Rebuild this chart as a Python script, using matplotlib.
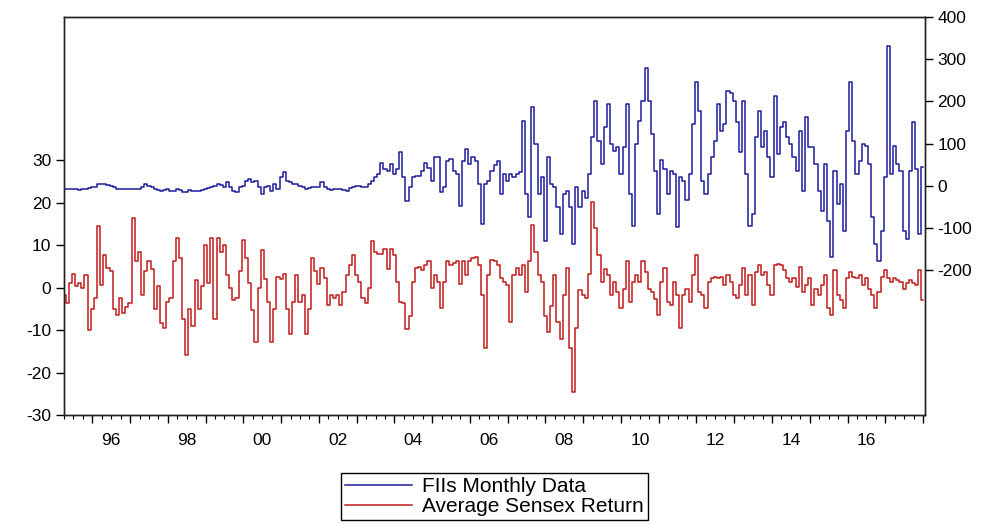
import numpy as np
import matplotlib
matplotlib.use("Agg")
import matplotlib.pyplot as plt
from matplotlib.ticker import MultipleLocator
from matplotlib.transforms import blended_transform_factory

plt.rcParams['font.family'] = ['Liberation Sans', 'DejaVu Sans']
plt.rcParams['axes.unicode_minus'] = False

# monthly series, first observation April 1995
start_year = 1995
start_month = 4

fii_monthly = [
    -8, -8, -7, -8, -8, -9, -8, -7, -5, -4,
    -2, 4, 3, 4, 2, 0, -4, -8, -8, -8,
    -8, -8, -8, -8, -8, -2, 4, 0, -3, -8,
    -10, -12, -9, -8, -12, -13, -8, -10, -15, -16,
    -11, -12, -12, -13, -9, -8, -5, -4, -1, 4,
    2, -4, 8, -4, -12, -14, -4, 0, 10, 16,
    8, 12, -4, -20, -4, 0, -12, 4, -8, 20,
    32, 10, 8, 4, 4, 0, -4, -8, -6, -4,
    -4, -2, 8, -4, -8, -9, -8, -8, -8, -9,
    -12, -6, -4, 0, 0, -2, -4, 4, 12, 20,
    28, 55, 40, 36, 51, 28, 40, 79, 20, -36,
    -4, 20, 22, 24, 36, 55, 43, 12, 67, 67,
    -16, -4, 59, 63, 36, 28, -47, 59, 87, 51,
    67, 59, 4, -91, 4, 12, 36, 50, 59, -20,
    28, 12, 28, 20, 28, 32, 154, -20, -75, 186,
    99, -20, 20, -130, 67, 4, -4, -51, -114, -20,
    -12, -51, -138, -4, -51, -12, -28, 28, 115, 201,
    107, 51, 138, 194, 99, 83, 91, 28, 91, 194,
    -20, -95, 99, 154, 200, 280, 200, 122, 36, -67,
    60, 40, -20, 36, 28, -99, 20, 12, -35, 28,
    146, 245, 178, 12, -20, 28, 67, 107, 194, 130,
    146, 225, 220, 201, 150, 80, 201, 28, -95, -67,
    115, 178, 91, 130, 67, 20, 213, 75, 138, 150,
    115, 99, 67, 36, 130, -12, 162, 91, 91, 51,
    -12, -59, 51, -83, -170, 36, -43, 4, -107, 130,
    245, 107, 28, 59, 99, 95, 51, -75, -138, -178,
    -107, 20, 332, 28, 95, 51, 36, -107, -126, 36,
    150, 40, -115, 45,
]

sensex_return = [
    -1.7, -3.5, 1, 3.3, 0.5, 1, 0, 3, -10, -5,
    -2.5, 14.5, 0.7, 7.8, 4.7, 4, -5, -6.5, -2.5, -6,
    -4.5, -3.5, 16.5, 6.2, 8.5, -1.7, 4, 6.2, 4.3, -5,
    0.5, -8.2, -9.4, -3.4, -2.5, 6.2, 11.6, 7, -7.3, -15.9,
    -5, -9, 1.7, -5, 0.5, 10, 1, 11.6, -7.3, 11.6,
    8.5, 10, 3, 0, -3, -2.5, 4, 11.3, 7, 1,
    -5.3, -12.7, 0, 9, 2, -3.3, -12.7, -5, 2.5, 2,
    3.3, -5, -11, -3.3, 3, -3.3, -1.7, -11, -5, 7,
    4, 0.8, 4.7, 2.2, -4, -1.7, -2.5, -1.7, -4, -0.9,
    3, 5.4, 7.7, 3, 1.4, -2.5, -3.7, 0, 11, 8.5,
    8, 8, 9.2, 4.5, 9.2, 7.7, 1.4, -3.3, -3.7, -9.7,
    -6.6, 1.4, 4.6, 4.9, 4.1, 5.3, 6.2, 0, 3, 1.4,
    -4.9, 1.4, 6.2, 5.4, 5.8, 6.2, 0.8, 6.2, 3, 6.2,
    7, 7.3, 5.4, -1.7, -14.3, 3, 6.5, 6.2, 5.4, 2.2,
    1.4, 0.6, -8, 3, 4.6, 3, 5.4, -1, 6.2, 14.8,
    8.5, 3, 1.4, -6.6, -10.5, -4.2, 3, -8, -12, -1.7,
    4.6, -14.3, -24.5, -9.6, -0.5, -1.7, -2.5, 3.3, 20.3, 14,
    7.7, 1.4, 4.5, 3, -1.7, 1.4, -1, -4.9, -0.2, 6.2,
    -3.3, 1.4, 3, 1.4, 6.2, 3.8, -0.2, -1, -2.6, -6.5,
    1.4, 4.6, -3.3, -4.1, 1.4, -1.7, -9.6, -1.7, -0.2, -3.3,
    3, 7.7, -1, -1.7, -4.9, 1.4, 2.2, 2.6, 2.2, 2.6,
    0.6, 3, 1.4, -1.7, -2.5, 0.6, 4.6, -1.7, 3, -4.1,
    3.8, 5.3, 3, 3.8, 0.6, -1.7, 5.3, 5.7, 5.3, 4.1,
    2.2, 1.4, 2.2, 0.2, 4.9, -1, 0.6, 2.2, -4.1, -0.2,
    -1.7, 0.6, 3, -4.9, -6.4, 4.1, -1.7, -2.9, -4.9, 2.2,
    3.8, 2.6, 2.2, 3, 0.6, 2.2, -0.2, -1.7, -4.9, -1,
    2.6, 4.1, 2.2, 1.4, 2.2, 1.8, 1.4, -0.2, 1, 1.8,
    1, 0.6, 4.1, -2.9,
]

year_labels = ['96', '98', '00', '02', '04', '06', '08', '10', '12', '14', '16']
label_years = [1996, 1998, 2000, 2002, 2004, 2006, 2008, 2010, 2012, 2014, 2016]

n = len(sensex_return)
t = start_year + (start_month - 1) / 12 + np.arange(n) / 12

fig = plt.figure(figsize=(9.95, 5.24), dpi=100)
ax = fig.add_axes([0.0643, 0.208, 0.8653, 0.7596])
ax2 = ax.twinx()

red_line, = ax.plot(t, sensex_return, color='#c21a1a', lw=1.1, drawstyle='steps-mid')
blue_line, = ax2.plot(t, fii_monthly, color='#1c1c9e', lw=1.1, drawstyle='steps-mid')

ax.set_xlim(t[0], t[-1] + 0.05)
ax.set_ylim(-30, 63.8)
ax2.set_ylim(-543.6, 400)

ax.set_yticks([-30, -20, -10, 0, 10, 20, 30])
ax2.set_yticks([-200, -100, 0, 100, 200, 300, 400])

ax.xaxis.set_major_locator(MultipleLocator(1))
ax.xaxis.set_minor_locator(MultipleLocator(0.25))
ax.set_xticklabels([])
ax.tick_params(axis='x', which='major', direction='out', length=6, width=1)
ax.tick_params(axis='x', which='minor', direction='out', length=3, width=0.8)
ax.tick_params(axis='y', direction='out', length=6, width=1, labelsize=12.5, pad=3)
ax2.tick_params(axis='y', direction='out', length=6, width=1, labelsize=12.5, pad=3)

trans = blended_transform_factory(ax.transData, ax.transAxes)
for yr, lab in zip(label_years, year_labels):
    ax.text(yr + 0.5, -0.045, lab, transform=trans, ha='center', va='top', fontsize=12.5)

for a in (ax, ax2):
    for s in a.spines.values():
        s.set_linewidth(1.0)
        s.set_color('#222222')

fig.legend([blue_line, red_line], ['FIIs Monthly Data', 'Average Sensex Return'],
           loc='upper center', bbox_to_anchor=(0.497, 0.098), fontsize=15,
           frameon=True, fancybox=False, edgecolor='black', framealpha=1,
           handlelength=3.2, handletextpad=0.5, borderpad=0.2, labelspacing=0.05,
           borderaxespad=0)

fig.savefig('out.png', dpi=100)
